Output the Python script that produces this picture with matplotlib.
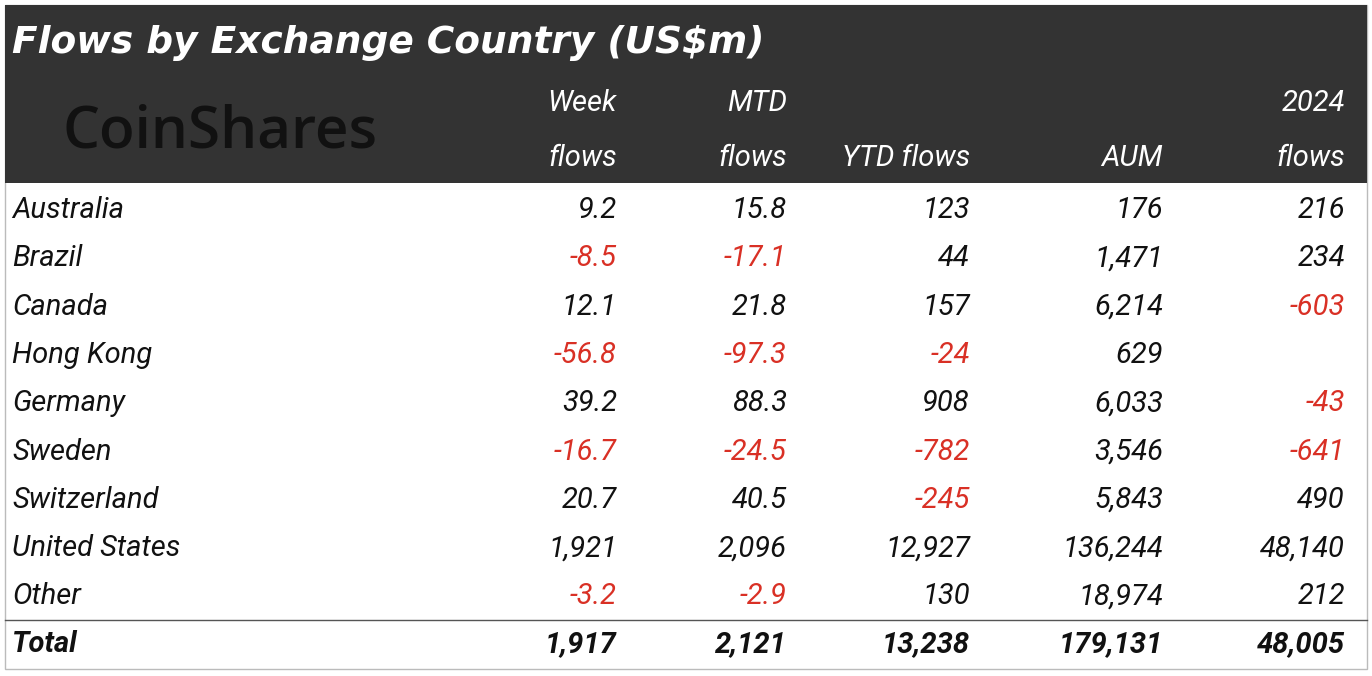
import matplotlib.pyplot as plt
from matplotlib.patches import Rectangle

countries = ["Australia", "Brazil", "Canada", "Hong Kong", "Germany", "Sweden",
             "Switzerland", "United States", "Other"]
week = ["9.2", "-8.5", "12.1", "-56.8", "39.2", "-16.7", "20.7", "1,921", "-3.2"]
mtd = ["15.8", "-17.1", "21.8", "-97.3", "88.3", "-24.5", "40.5", "2,096", "-2.9"]
ytd = ["123", "44", "157", "-24", "908", "-782", "-245", "12,927", "130"]
aum = ["176", "1,471", "6,214", "629", "6,033", "3,546", "5,843", "136,244", "18,974"]
y2024 = ["216", "234", "-603", "", "-43", "-641", "490", "48,140", "212"]
totals = ["1,917", "2,121", "13,238", "179,131", "48,005"]
headers_top = ["Week", "MTD", "", "", "2024"]
headers_bot = ["flows", "flows", "YTD flows", "AUM", "flows"]

RED = "#d93025"
FONT = "Roboto"
FS = 21

fig = plt.figure(figsize=(13.72, 6.76), dpi=100)
ax = fig.add_axes([0, 0, 1, 1])
ax.set_xlim(0, 1372)
ax.set_ylim(676, 0)
ax.axis("off")

# frame and dark header
ax.add_patch(Rectangle((5, 5), 1362, 664, fill=False, ec="#bbbbbb", lw=1))
ax.add_patch(Rectangle((5, 5), 1362, 178, color="#333333", lw=0))

ax.text(12, 43, "Flows by Exchange Country (US$m)", color="white", fontsize=27,
        fontweight="bold", style="italic", family="DejaVu Sans", va="center")
ax.text(63, 132, "CoinShares", color="#111111", fontsize=42, family="Open Sans",
        fontweight="semibold", va="center")

col_right = [617, 787, 970, 1163, 1345]
for x, top, bot in zip(col_right, headers_top, headers_bot):
    ax.text(x, 103, top, color="white", fontsize=FS, style="italic",
            family=FONT, ha="right", va="center")
    ax.text(x, 158, bot, color="white", fontsize=FS, style="italic",
            family=FONT, ha="right", va="center")

row_y0, row_h = 210, 48.3
columns = [week, mtd, ytd, aum, y2024]
for i, name in enumerate(countries):
    y = row_y0 + i * row_h
    ax.text(12, y, name, fontsize=FS, style="italic", family=FONT,
            va="center", color="#111111")
    for x, col in zip(col_right, columns):
        v = col[i]
        ax.text(x, y, v, fontsize=FS, style="italic", family=FONT, ha="right",
                va="center", color=RED if v.startswith("-") else "#111111")

ax.plot([5, 1367], [620, 620], color="#555555", lw=1)
yt = 644
ax.text(12, yt, "Total", fontsize=FS, style="italic", fontweight="bold",
        family=FONT, va="center", color="#111111")
for x, v in zip(col_right, totals):
    ax.text(x, yt, v, fontsize=FS, style="italic", fontweight="bold",
            family=FONT, ha="right", va="center", color="#111111")

fig.savefig("out.png", dpi=100)
